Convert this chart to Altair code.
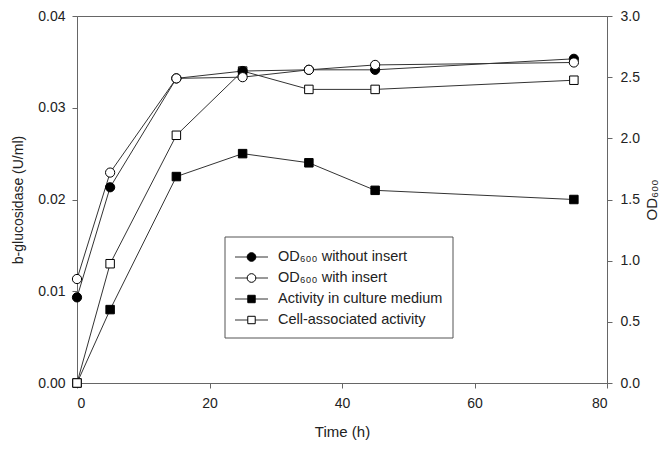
import altair as alt
import pandas as pd

# ---- data ----
time_h = [0, 5, 15, 25, 35, 45, 75]
od_without_insert = [0.70, 1.60, 2.49, 2.55, 2.56, 2.56, 2.65]
od_with_insert = [0.85, 1.72, 2.49, 2.50, 2.56, 2.60, 2.62]
activity_medium = [0.0, 0.008, 0.0225, 0.025, 0.024, 0.021, 0.020]
activity_cell = [0.0, 0.013, 0.027, 0.034, 0.032, 0.032, 0.033]

series_labels = [
    "OD\u2086\u2080\u2080 without insert",
    "OD\u2086\u2080\u2080 with insert",
    "Activity in culture medium",
    "Cell-associated activity",
]
x_ticks = [0, 20, 40, 60, 80]
left_ticks = [0.0, 0.01, 0.02, 0.03, 0.04]
right_ticks = [0.0, 0.5, 1.0, 1.5, 2.0, 2.5, 3.0]

FONT = "Liberation Sans"
TXT = "#222222"
LINE = "#333333"

od_df = pd.DataFrame(
    {"t": time_h * 2,
     "v": od_without_insert + od_with_insert,
     "s": [series_labels[0]] * len(time_h) + [series_labels[1]] * len(time_h)}
)
act_df = pd.DataFrame(
    {"t": time_h * 2,
     "v": activity_medium + activity_cell,
     "s": [series_labels[2]] * len(time_h) + [series_labels[3]] * len(time_h)}
)

x_enc = alt.X("t:Q", scale=alt.Scale(domain=[0, 80], nice=False),
              axis=alt.Axis(values=x_ticks, title="Time (h)", format="d",
                            labelPadding=8, titlePadding=14, titleFontSize=15))

y_act = alt.Y("v:Q", scale=alt.Scale(domain=[0, 0.04], nice=False),
              axis=alt.Axis(values=left_ticks, format=".2f", title="b-glucosidase (U/ml)",
                            orient="left", labelPadding=7, titlePadding=12))
y_od = alt.Y("v:Q", scale=alt.Scale(domain=[0, 3], nice=False),
             axis=alt.Axis(values=right_ticks, format=".1f", title="OD\u2086\u2080\u2080",
                           orient="right", titleAngle=270, labelPadding=8,
                           titlePadding=20, titleFontSize=15))

def pts(df, label, shape, fill, size):
    return alt.Chart(df).transform_filter(alt.datum.s == label).mark_point(
        shape=shape, filled=True, fill=fill, stroke="black", strokeWidth=1,
        opacity=1, size=size)

act_line = alt.Chart(act_df).mark_line(strokeWidth=1, color=LINE).encode(
    x=x_enc, y=y_act, detail="s:N")
act_layer = alt.layer(
    act_line,
    pts(act_df, series_labels[2], "square", "black", 72).encode(x=x_enc, y=y_act),
    pts(act_df, series_labels[3], "square", "white", 72).encode(x=x_enc, y=y_act),
)

od_line = alt.Chart(od_df).mark_line(strokeWidth=1, color=LINE).encode(
    x=x_enc, y=y_od, detail="s:N")
od_layer = alt.layer(
    od_line,
    pts(od_df, series_labels[0], "circle", "black", 85).encode(x=x_enc, y=y_od),
    pts(od_df, series_labels[1], "circle", "white", 85).encode(x=x_enc, y=y_od),
)

# ---- manual legend (pixel layout inside plot area) ----
one = pd.DataFrame({"a": [0]})
legend_layers = [
    alt.Chart(one).mark_rect(fill="white", stroke="#555555", strokeWidth=1).encode(
        x=alt.value(148), x2=alt.value(376), y=alt.value(221), y2=alt.value(322))
]
row_y = [241, 262, 283, 304]
shapes = ["circle", "circle", "square", "square"]
fills = ["black", "white", "black", "white"]
sizes = [75, 75, 55, 55]
for lab, yy, sh, fl, sz in zip(series_labels, row_y, shapes, fills, sizes):
    legend_layers.append(
        alt.Chart(one).mark_rule(color=LINE, strokeWidth=1).encode(
            x=alt.value(158), x2=alt.value(191), y=alt.value(yy)))
    legend_layers.append(
        alt.Chart(one).mark_point(shape=sh, filled=True, fill=fl, stroke="black",
                                  strokeWidth=1, opacity=1, size=sz).encode(
            x=alt.value(174.5), y=alt.value(yy)))
    legend_layers.append(
        alt.Chart(one).mark_text(text=lab, align="left", baseline="middle",
                                 font=FONT, fontSize=14.5, color=TXT).encode(
            x=alt.value(201), y=alt.value(yy)))

chart = alt.layer(act_layer, od_layer, *legend_layers).resolve_scale(
    y="independent"
).properties(
    width=530, height=367,
    autosize=alt.AutoSizeParams(type="none"),
    padding={"left": 69, "top": 8, "right": 54, "bottom": 59},
).configure_view(
    stroke="#666666", strokeWidth=1
).configure_axis(
    labelFont=FONT, titleFont=FONT, labelFontSize=14, titleFontSize=14,
    labelColor=TXT, titleColor=TXT, titleFontWeight="normal",
    domainColor="#666666", tickColor="#666666", tickSize=5, grid=False,
)

chart.save("out.html", embed_options={"renderer": "svg", "actions": False})
